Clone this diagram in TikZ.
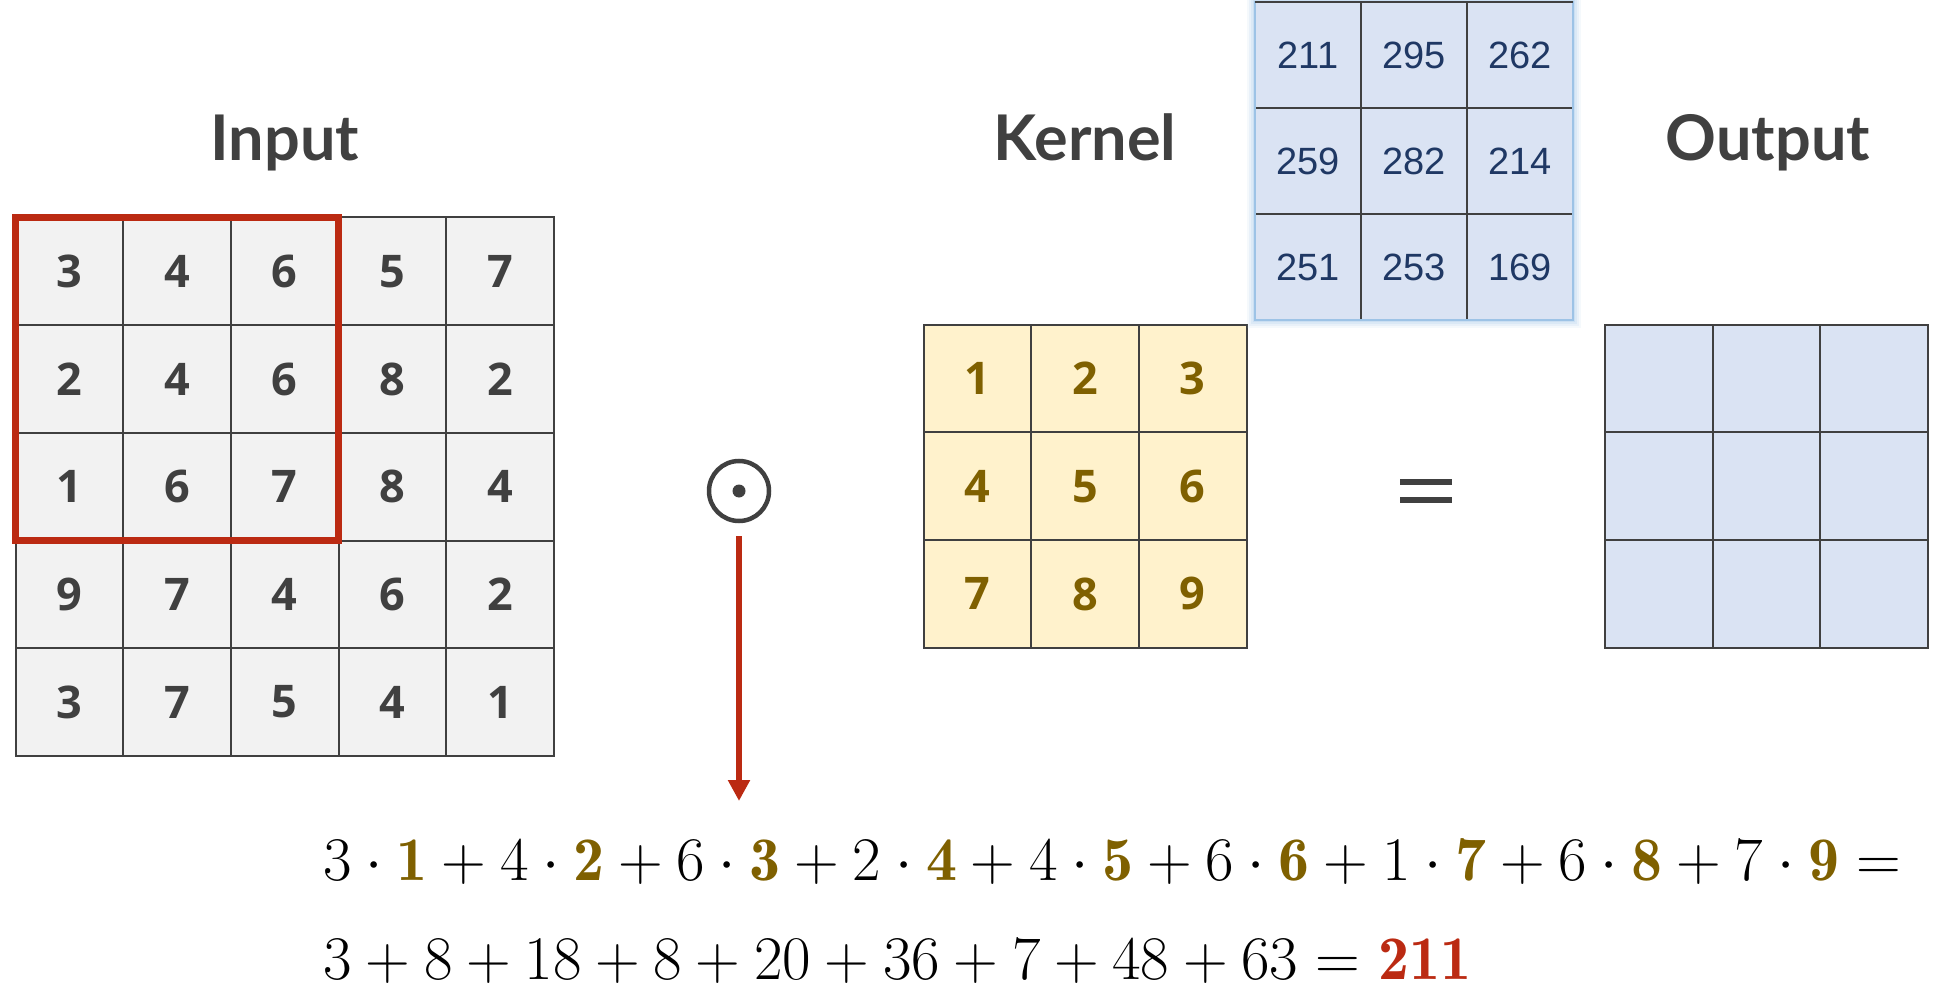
\documentclass[tikz,border=0pt]{standalone}
\usepackage{fix-cm}
\usepackage{fontspec}
\newfontfamily\titlefont{Lato}
\newfontfamily\digitfont{Open Sans}
\newfontfamily\resfont{Liberation Sans}
\usetikzlibrary{arrows.meta}
\definecolor{linegray}{HTML}{404040}
\definecolor{ingray}{HTML}{F2F2F2}
\definecolor{kfill}{HTML}{FFF2CC}
\definecolor{ofill}{HTML}{DAE3F3}
\definecolor{gold}{HTML}{7F6000}
\definecolor{navy}{HTML}{1F3864}
\definecolor{myred}{RGB}{187,42,18}
\definecolor{glowblue}{HTML}{9DC3E6}
\newcommand{\kg}[1]{{\color{gold}\mathbf{#1}}}
\begin{document}
\begin{tikzpicture}[x=1pt,y=-1pt,
  cell/.style={draw=linegray, line width=2pt, minimum size=107.7pt, inner sep=0pt, outer sep=0pt, anchor=center},
  digitstyle/.style={font=\digitfont\bfseries\fontsize{45}{45}\selectfont},
  incell/.style={cell, fill=ingray, text=linegray, digitstyle},
  kcell/.style={cell, fill=kfill, text=gold, digitstyle},
  ocell/.style={cell, fill=ofill},
  rcell/.style={cell, minimum size=106pt, fill=ofill, text=navy, font=\resfont\fontsize{38}{38}\selectfont},
  title/.style={anchor=base, inner sep=0pt, text=linegray, font=\titlefont\bfseries\fontsize{63}{63}\selectfont},
  redbox/.style={draw=myred, line width=7pt},
  redarrow/.style={draw=myred, line width=6.5pt, -{Triangle[length=21pt,width=21pt]}},
  eqbar/.style={draw=linegray, line width=6pt},
  eqtext/.style={anchor=base west, inner sep=0pt, font=\fontsize{62}{74}\selectfont}
]
\useasboundingbox (0,0) rectangle (1936,995);

% titles
\node[title] (tin) at (284.7,160.7) {Input};
\node[title] (tk) at (1085,160.7) {Kernel};
\node[title] (tout) at (1768,160.7) {Output};

% input grid
\foreach \row [count=\r] in {{3,4,6,5,7},{2,4,6,8,2},{1,6,7,8,4},{9,7,4,6,2},{3,7,5,4,1}} {
  \foreach \v [count=\c] in \row {
    \node[incell] (in-\r-\c) at ({15.5+(\c-0.5)*107.7},{217.5+(\r-0.5)*107.7}) {\v};
  }
}
\draw[redbox] (in-1-1.north west) rectangle (in-3-3.south east);

% kernel grid
\foreach \row [count=\r] in {{1,2,3},{4,5,6},{7,8,9}} {
  \foreach \v [count=\c] in \row {
    \node[kcell] (k-\r-\c) at ({923.5+(\c-0.5)*107.7},{324.7+(\r-0.5)*107.7}) {\v};
  }
}

% output grid
\foreach \r in {1,2,3} {
  \foreach \c in {1,2,3} {
    \node[ocell] (out-\r-\c) at ({1605+(\c-0.5)*107.7},{324.7+(\r-0.5)*107.7}) {};
  }
}

% result grid (floating) with glow
\foreach \w/\o in {16pt/0.10,12pt/0.14,8pt/0.18,4pt/0.25} {
  \draw[glowblue, opacity=\o, line width=\w] (1255,2.3) rectangle (1573,320.3);
}
\foreach \row [count=\r] in {{211,295,262},{259,282,214},{251,253,169}} {
  \foreach \v [count=\c] in \row {
    \node[rcell] (r-\r-\c) at ({1255+(\c-0.5)*106},{2.3+(\r-0.5)*106}) {\v};
  }
}
\draw[glowblue, line width=2pt] (r-1-1.north west) rectangle (r-3-3.south east);
\draw[linegray, line width=2pt] (r-1-1.north west) -- (r-1-3.north east);

% odot
\node[circle, draw=linegray, line width=4.5pt, minimum size=60pt, inner sep=0pt, outer sep=0pt] (odot) at (739,491) {};
\fill[linegray] (odot.center) circle (6.5pt);

% equals sign
\node[inner sep=0pt, outer sep=0pt, minimum width=51.7pt, minimum height=23.4pt] (eqsign) at (1426,491) {};
\draw[eqbar] ([yshift=-3pt]eqsign.north west) -- ([yshift=-3pt]eqsign.north east);
\draw[eqbar] ([yshift=3pt]eqsign.south west) -- ([yshift=3pt]eqsign.south east);

% arrow
\coordinate (aend) at (739,801);
\draw[redarrow, shorten <=15pt] (odot) -- (aend);

% equations
\node[eqtext] (eq1) at (323.5,880) {$3\cdot\kg{1}+4\cdot\kg{2}+6\cdot\kg{3}+2\cdot\kg{4}+4\cdot\kg{5}+6\cdot\kg{6}+1\cdot\kg{7}+6\cdot\kg{8}+7\cdot\kg{9}=$};
\node[eqtext] (eq2) at (323.5,979) {$3+8+18+8+20+36+7+48+63={\color{myred}\mathbf{211}}$};
\end{tikzpicture}
\end{document}
